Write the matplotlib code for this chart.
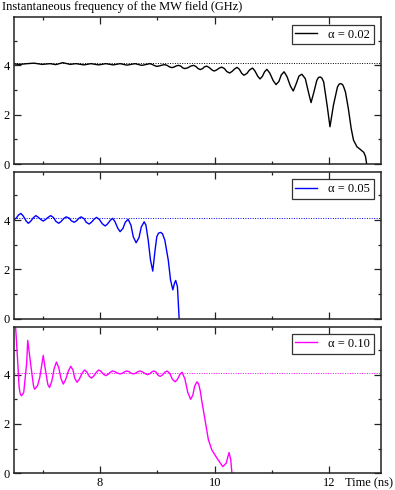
import matplotlib
matplotlib.use('Agg')
import matplotlib.pyplot as plt
from matplotlib.ticker import MultipleLocator

plt.rcParams['font.family'] = ['Liberation Serif', 'DejaVu Serif']

# ── Data ──────────────────────────────────────────────────────────────────────

T_LIMITS = (6.5, 12.9)
F_LIMITS = (0.0, 5.95)
F_REF = 4.08   # dotted reference line (GHz)

# alpha = 0.02
t_a002 = [6.50, 6.60, 6.73, 6.85, 6.99, 7.13, 7.23, 7.35, 7.48, 7.58, 7.72, 7.84,
          7.98, 8.10, 8.23, 8.35, 8.47, 8.61, 8.73, 8.87,
          8.91, 8.95, 8.99, 9.04, 9.08, 9.13, 9.17, 9.21, 9.25, 9.29, 9.33, 9.37,
          9.41, 9.44, 9.48, 9.53, 9.58, 9.63, 9.67, 9.71, 9.75, 9.79, 9.82, 9.86,
          9.90, 9.95, 9.99, 10.03, 10.08, 10.12, 10.17, 10.21, 10.26, 10.30, 10.35,
          10.39, 10.43, 10.47, 10.51, 10.56, 10.61, 10.66, 10.70, 10.75, 10.79,
          10.83, 10.87, 10.91, 10.96, 11.02, 11.07, 11.12, 11.16, 11.21, 11.26,
          11.32, 11.37, 11.42, 11.47, 11.52, 11.58, 11.64, 11.68, 11.73, 11.78,
          11.81, 11.84, 11.87, 11.90, 11.96, 12.01, 12.07, 12.14, 12.17, 12.20,
          12.23, 12.25, 12.28, 12.33, 12.38, 12.42, 12.48, 12.54, 12.60, 12.63, 12.65]
f_a002 = [4.06, 4.04, 4.07, 4.09, 4.04, 4.07, 4.03, 4.11, 4.04, 4.07, 4.02, 4.07,
          4.02, 4.07, 4.02, 4.07, 4.01, 4.07, 4.00, 4.07,
          4.04, 3.99, 3.96, 3.98, 4.01, 4.03, 4.00, 3.94, 3.91, 3.93, 3.98, 4.00,
          3.97, 3.90, 3.87, 3.90, 3.97, 4.00, 3.96, 3.87, 3.83, 3.87, 3.94, 3.97,
          3.92, 3.82, 3.77, 3.81, 3.89, 3.93, 3.87, 3.75, 3.69, 3.75, 3.86,
          3.92, 3.84, 3.68, 3.60, 3.67, 3.82, 3.89, 3.78, 3.56, 3.45,
          3.55, 3.74, 3.84, 3.69, 3.38, 3.22, 3.35, 3.61, 3.74, 3.55,
          3.16, 2.96, 3.25, 3.57, 3.64, 3.46, 2.86, 2.49, 2.92, 3.39,
          3.51, 3.53, 3.48, 3.33, 2.38, 1.51, 2.38, 3.12, 3.24, 3.26,
          3.22, 3.12, 2.92, 2.25, 1.44, 0.97, 0.70, 0.59, 0.47, 0.30, 0.00]

# alpha = 0.05
t_a005 = [6.50, 6.54, 6.58, 6.62, 6.66, 6.71, 6.75, 6.79, 6.84, 6.88, 6.92, 6.97,
          7.01, 7.05, 7.10, 7.14, 7.19, 7.23, 7.28, 7.32, 7.37, 7.41, 7.46, 7.50,
          7.55, 7.59, 7.63, 7.67, 7.72, 7.76, 7.81, 7.85, 7.90, 7.94, 7.99, 8.04,
          8.09, 8.13, 8.18, 8.22, 8.26, 8.31, 8.35, 8.40, 8.44, 8.49, 8.54, 8.58,
          8.63, 8.68, 8.72, 8.77, 8.80, 8.84, 8.88, 8.92, 8.96, 8.99, 9.02, 9.06,
          9.09, 9.13, 9.19, 9.23, 9.27, 9.30, 9.32, 9.35, 9.38]
f_a005 = [4.02, 4.08, 4.21, 4.27, 4.17, 3.97, 3.87, 3.95, 4.10, 4.18, 4.12, 4.02,
          3.96, 4.02, 4.12, 4.18, 4.10, 3.95, 3.87, 3.94, 4.07, 4.13, 4.08, 3.97,
          3.91, 3.97, 4.07, 4.13, 4.06, 3.91, 3.84, 3.91, 4.04, 4.11, 4.02, 3.85,
          3.76, 3.84, 3.99, 4.07, 3.94, 3.67, 3.53, 3.66, 3.91, 4.03, 3.79, 3.32,
          3.08, 3.29, 3.72, 3.93, 3.80, 3.19, 2.38, 1.93, 2.78, 3.32, 3.47, 3.50,
          3.44, 3.19, 2.38, 1.57, 1.17, 1.45, 1.55, 1.30, 0.00]

# alpha = 0.10
t_a010 = [6.505, 6.53, 6.56, 6.59, 6.61, 6.63, 6.67, 6.72, 6.74, 6.79, 6.84, 6.86,
          6.91, 6.95, 7.01, 7.05, 7.09, 7.12, 7.16, 7.20, 7.24, 7.28, 7.32, 7.36,
          7.40, 7.45, 7.49, 7.53, 7.56, 7.60, 7.64, 7.69, 7.73, 7.77, 7.81, 7.85,
          7.89, 7.94, 7.98, 8.02, 8.06, 8.10, 8.14, 8.18, 8.22, 8.26, 8.31, 8.35,
          8.39, 8.43, 8.47, 8.51, 8.54, 8.58, 8.62, 8.66, 8.70, 8.74, 8.79, 8.83,
          8.87, 8.90, 8.94, 8.98, 9.01, 9.05, 9.09, 9.13, 9.17, 9.22, 9.26, 9.31,
          9.35, 9.39, 9.43, 9.48, 9.53, 9.58, 9.62, 9.65, 9.69, 9.72, 9.75, 9.77,
          9.83, 9.89, 9.95, 10.04, 10.14, 10.20, 10.25, 10.28, 10.30]
f_a010 = [6.00, 5.87, 4.71, 3.48, 3.22, 3.14, 3.28, 4.44, 5.39, 4.44, 3.55, 3.41,
          3.55, 3.89, 4.78, 4.16, 3.60, 3.48, 3.74, 4.25, 4.51, 4.29, 3.84, 3.62,
          3.80, 4.16, 4.34, 4.18, 3.85, 3.69, 3.82, 4.07, 4.19, 4.11, 3.94, 3.86,
          3.94, 4.11, 4.19, 4.13, 4.02, 3.96, 4.01, 4.10, 4.15, 4.12, 4.06, 4.03,
          4.06, 4.12, 4.15, 4.12, 4.06, 4.03, 4.06, 4.12, 4.15, 4.11, 4.04, 4.00,
          4.04, 4.11, 4.15, 4.10, 3.98, 3.93, 3.99, 4.10, 4.15, 4.04, 3.82, 3.71,
          3.81, 4.00, 4.10, 3.83, 3.28, 3.00, 3.18, 3.53, 3.71, 3.62, 3.32, 3.00,
          2.18, 1.36, 0.95, 0.61, 0.27, 0.41, 0.84, 0.55, 0.00]

SERIES = [
    (t_a002, f_a002, 'black', '\u03b1 = 0.02'),
    (t_a005, f_a005, 'blue', '\u03b1 = 0.05'),
    (t_a010, f_a010, 'magenta', '\u03b1 = 0.10'),
]

# axes boxes in figure fraction (left, bottom, width, height)
PANELS = [
    (0.0354, 0.6653, 0.9292, 0.2994),
    (0.0354, 0.3496, 0.9292, 0.2994),
    (0.0354, 0.0341, 0.9292, 0.2994),
]

# ── Plotting ───────────────────────────────────────────────────────────────────

fig = plt.figure(figsize=(3.95, 4.9), dpi=100)

for i, ((t, f, color, label), box) in enumerate(zip(SERIES, PANELS)):
    ax = fig.add_axes(box)
    ax.plot(t, f, color=color, linewidth=1.0, label=label)
    ax.axhline(F_REF, color=color, linestyle=(0, (1, 1.5)), linewidth=0.7)
    ax.set_xlim(*T_LIMITS)
    ax.set_ylim(*F_LIMITS)

    ax.xaxis.set_major_locator(MultipleLocator(2))
    ax.xaxis.set_minor_locator(MultipleLocator(1))
    ax.yaxis.set_major_locator(MultipleLocator(2))
    ax.yaxis.set_minor_locator(MultipleLocator(1))
    ax.tick_params(which='both', direction='in', top=True, right=True,
                   width=0.9, color='#222222', labelsize=9, pad=3)
    ax.tick_params(which='major', length=5)
    ax.tick_params(which='minor', length=2.5)
    ax.set_yticks([0, 2, 4])
    ax.set_yticklabels(['0', '2', '4'])
    if i < 2:
        ax.set_xticklabels([])
    for s in ax.spines.values():
        s.set_linewidth(1.1)
        s.set_color('#222222')

    leg = ax.legend(loc='upper right', fancybox=False, framealpha=1,
                    edgecolor='#333333', fontsize=9, handlelength=1.7,
                    borderaxespad=0.6, borderpad=0.3, handletextpad=0.9)
    leg.get_frame().set_linewidth(0.9)

fig.text(0.005, 0.985, 'Instantaneous frequency of the MW field (GHz)',
         fontsize=9, ha='left', va='center')
fig.text(0.995, 0.014, 'Time (ns)', fontsize=9, ha='right', va='center')

plt.savefig('out.png', dpi=100)
plt.close()
